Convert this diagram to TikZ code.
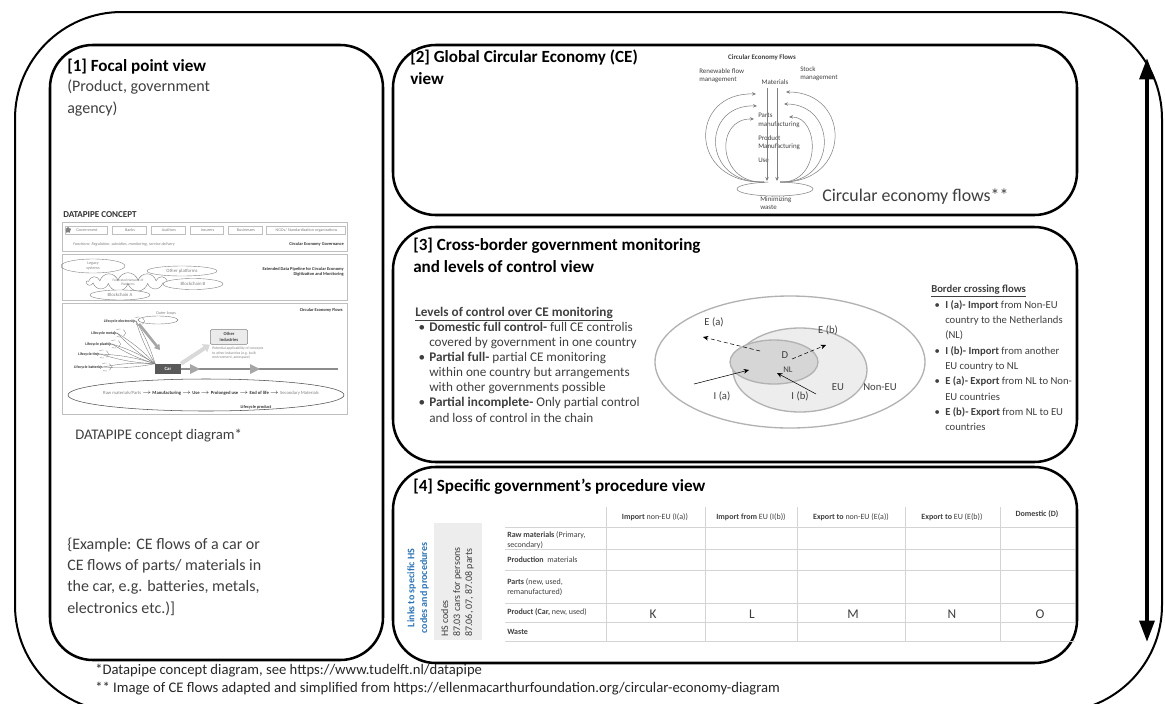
\documentclass[tikz,border=0pt]{standalone}
\usepackage{fontspec}
\setmainfont{Carlito}
\usepackage{tikz}
\usetikzlibrary{arrows.meta,shapes.geometric,shapes.symbols,positioning}
\definecolor{bodygrey}{HTML}{3F3F3F}
\definecolor{figgrey}{HTML}{808080}
\definecolor{rulegrey}{HTML}{D4D4D4}
\definecolor{linkblue}{HTML}{2E75B6}
\tikzset{
  panel/.style={line width=1.9pt, rounded corners=32pt},
  paneltitle/.style={anchor=west, inner sep=0pt, align=left,
    font=\fontsize{12.8}{16.5}\selectfont\bfseries},
  bodytext/.style={anchor=north west, inner sep=0pt, align=left, text=bodygrey,
    font=\fontsize{12}{15.8}\selectfont},
  listtext/.style={anchor=north west, inner sep=0pt, align=left, text=bodygrey,
    font=\fontsize{9.9}{11.3}\selectfont},
  foot/.style={anchor=west, inner sep=0pt, text=black!85, font=\fontsize{11}{13}\selectfont},
  minitext/.style={inner sep=0pt, text=figgrey, font=\fontsize{3.1}{3.7}\selectfont},
  minibold/.style={inner sep=0pt, text=black!80, font=\fontsize{3.3}{3.9}\selectfont\bfseries},
  minibox/.style={draw=black!25, line width=0.4pt},
  flowtext/.style={inner sep=0pt, align=left, text=bodygrey, font=\fontsize{5.2}{6.4}\selectfont},
  flowarc/.style={draw=figgrey, line width=0.4pt, -{Stealth[length=3pt,width=2.6pt]}},
  cell/.style={anchor=west, inner sep=0pt, align=left, text=bodygrey, font=\fontsize{6}{7.6}\selectfont},
  headcell/.style={inner sep=0pt, text=bodygrey, font=\fontsize{6}{7.6}\selectfont},
  letter/.style={inner sep=0pt, text=bodygrey, font=\fontsize{10}{12}\selectfont},
  zone/.style={draw=black!30, line width=1pt},
  zonelabel/.style={inner sep=0pt, text=bodygrey, font=\fontsize{8}{9}\selectfont},
}
\newcommand{\bul}{\hspace*{2.5pt}\makebox[8pt][l]{\textbullet}}
\newcommand{\cont}{\hspace*{10.5pt}}

\begin{document}
\begin{tikzpicture}[x=0.75pt,y=-0.75pt]
  \useasboundingbox (0,0) rectangle (1165,704);
  \clip (0,0) rectangle (1165,704);
  % frame and panels
  \draw[line width=1.5pt, rounded corners=80pt] (15,12) rectangle (1162,712);
  \draw[panel] (50,45) rectangle (383,660);
  \draw[panel] (393,45) rectangle (1077,215);
  \draw[panel] (393,227) rectangle (1077,462);
  \draw[panel] (393,467) rectangle (1077,663);
  \coordinate (arrtop) at (1147,58);
  \coordinate (arrbot) at (1147,642);
  \draw[{Triangle[length=16pt,width=11pt]}-{Triangle[length=16pt,width=11pt]}, line width=3pt]
    (arrtop) -- (arrbot);

  % [1] focal point view
  \node[paneltitle] (p1title) at (67,67) {[1] Focal point view};
  \node[bodytext] (p1sub) at (67,80) {(Product, government\\agency)};
  \node[anchor=west, inner sep=0pt, text=black!80, font=\fontsize{6.8}{8}\selectfont\bfseries]
    (dpconcept) at (63,215) {DATAPIPE CONCEPT};
  \draw[minibox] (62,222) rectangle (347,251);
  \node[star, star points=5, fill=figgrey, inner sep=0pt, minimum size=5pt] (govstar) at (68,230) {};
  \foreach \xa/\xb/\lbl in {65/107/Government, 112/146/Banks, 151/185/Auditors,
      190/223/Insurers, 228/262/Businesses, 266/345/{NGOs/ Standardization organizations}}{
    \draw[minibox] (\xa,226.5) rectangle (\xb,234.5);
    \node[minitext] at ({(\xa+\xb)/2+1},230.5) {\lbl};
  }
  \node[minitext, anchor=west, font=\fontsize{3.1}{3.7}\selectfont\itshape] (dpfunc) at (73,244)
    {Functions: Regulation, subsidies, monitoring, service delivery};
  \node[minibold, anchor=east] (dpgov) at (344,244) {Circular Economy Governance};
  \draw[minibox] (62,254) rectangle (347,300);
  \draw[figgrey, line width=0.3pt] (93,266) ellipse (32 and 7);
  \node[minitext, align=center] (legacy) at (93,266) {Legacy\\systems};
  \node[cloud, cloud puffs=13, aspect=4, draw=figgrey, fill=white, line width=0.3pt,
    minimum width=62pt, minimum height=13pt, inner sep=0pt, align=center,
    text=figgrey, font=\fontsize{2.6}{3.1}\selectfont] (fednet) at (128,282)
    {Federated Network of\\Platforms};
  \draw[figgrey, line width=0.3pt, fill=white] (182,271) ellipse (35 and 5);
  \node[minitext, font=\fontsize{3.6}{4}\selectfont] (otherplat) at (182,271) {Other platforms};
  \draw[figgrey, line width=0.3pt, fill=white] (193,284) ellipse (30 and 5.5);
  \node[minitext, font=\fontsize{3.6}{4}\selectfont] (chainb) at (193,284) {Blockchain B};
  \draw[figgrey, line width=0.3pt, fill=white] (120,295) ellipse (30 and 5);
  \node[minitext, font=\fontsize{3.6}{4}\selectfont] (chaina) at (120,295) {Blockchain A};
  \node[minibold, anchor=east, align=right] (dppipe) at (344,272)
    {Extended Data Pipeline for Circular Economy\\Digitization and Monitoring};
  \draw[minibox] (62,303) rectangle (347,414);
  \node[minibold, anchor=east] (dpflows) at (343,310) {Circular Economy Flows};
  \draw[figgrey, line width=0.3pt] (158,320) ellipse (20 and 4);
  \node[minitext] (outerloops) at (166,313) {Outer loops};
  \node[minibold, anchor=east, font=\fontsize{2.9}{3.4}\selectfont\bfseries] (lcelec) at (136,321) {Lifecycle electronics};
  \node[minibold, anchor=east, font=\fontsize{2.9}{3.4}\selectfont\bfseries] (lcmetal) at (117,333) {Lifecycle metals};
  \node[minibold, anchor=east, font=\fontsize{2.9}{3.4}\selectfont\bfseries] (lcplast) at (112,344) {Lifecycle plastics};
  \node[minibold, anchor=east, font=\fontsize{2.9}{3.4}\selectfont\bfseries] (lctire) at (100,354) {Lifecycle tires};
  \node[minibold, anchor=east, font=\fontsize{2.9}{3.4}\selectfont\bfseries] (lcbatt) at (103,367) {Lifecycle batteries};
  \node[fill=black!65, text=white, minimum width=19pt, minimum height=7.5pt, inner sep=0pt,
    font=\fontsize{3.6}{4}\selectfont\bfseries] (car) at (168,369) {Car};
  \foreach \lc in {lcelec,lcmetal,lcplast,lctire,lcbatt}{
    \draw[figgrey, line width=0.3pt] (\lc.east) to[bend left=7] (car.north west);
    \draw[figgrey, line width=0.3pt] (\lc.east) to[bend right=7] (car.north west);
    \draw[figgrey, densely dashed, line width=0.25pt] ([xshift=2pt]\lc.east) ellipse (6 and 4);
  }
  \draw[-{Triangle[length=4pt,width=5pt]}, line width=2pt, black!35] (139,324) -- (160,350);
  \node[draw=figgrey, fill=black!8, rounded corners=1pt, minimum width=28pt, minimum height=11pt,
    inner sep=0pt, align=center, font=\fontsize{3.4}{4}\selectfont\bfseries, text=black!75]
    (otherind) at (229,337) {Other\\industries};
  \draw[-{Triangle[length=5pt,width=7pt]}, line width=3pt, black!15] (car.north east) -- (otherind.south west);
  \node[minitext, anchor=north west, align=left, font=\fontsize{2.8}{3.3}\selectfont] (potential) at (212,347)
    {Potential applicability of concepts\\to other industries (e.g. built\\environment, aerospace)};
  \draw[black!45, line width=0.8pt] (car.east) -- (338,369);
  \fill[black!35] (190,364) -- (200,369) -- (190,374) -- cycle;
  \fill[black!35] (250,364) -- (260,369) -- (250,374) -- cycle;
  \draw[black!70, line width=0.4pt] (206,395) ellipse (138 and 16);
  \node[inner sep=0pt, text=black!80, font=\fontsize{3.5}{4}\selectfont\bfseries] (chain) at (211,393)
    {\textcolor{figgrey}{\mdseries Raw materials/Parts} $\rightarrow$ Manufacturing $\rightarrow$ Use
     $\rightarrow$ Prolonged use $\rightarrow$ End of life $\rightarrow$ \textcolor{figgrey}{\mdseries Secondary Materials}};
  \node[minibold] (lcproduct) at (256,407) {Lifecycle product};
  \node[anchor=west, inner sep=0pt, text=bodygrey, font=\fontsize{11}{13}\selectfont] (dpcaption) at (75,436)
    {DATAPIPE concept diagram*};
  \node[bodytext] (p1example) at (67,538) {\{Example: CE flows of a car or\\CE flows of parts/ materials in\\the car, e.g. batteries, metals,\\electronics etc.)]};

  % [2] global CE view
  \node[paneltitle, anchor=north west] (p2title) at (410,50) {[2] Global Circular Economy (CE)\\view};
  \node[flowtext, font=\fontsize{5.2}{6.4}\selectfont\bfseries] (ceflows) at (762,58) {Circular Economy Flows};
  \node[flowtext, anchor=north west] (renew) at (699,68) {Renewable flow\\management};
  \node[flowtext] (materials) at (775,82) {Materials};
  \node[flowtext, anchor=north west] (stock) at (800,66) {Stock\\management};
  \node[flowtext, anchor=north west] (partsman) at (758,113) {Parts\\manufacturing};
  \node[flowtext, anchor=north west] (prodman) at (758,135) {Product\\Manufacturing};
  \node[flowtext, anchor=north west] (use) at (758,158) {Use};
  \node[flowtext, anchor=north west] (minwaste) at (760,196) {Minimizing\\waste};
  \draw[flowarc] (767,88) -- (767,181);
  \draw[flowarc] (777,88) -- (777,181);
  \draw[figgrey, line width=0.4pt] (775,189) ++(280:38 and 7)
    arc[start angle=280, end angle=620, x radius=38, y radius=7];
  \coordinate (wasteL) at (764,182);
  \coordinate (wasteR) at (780,182);
  \draw[flowarc] (wasteL) .. controls (688,184) and (688,92) .. (756,94);
  \draw[flowarc] (wasteL) .. controls (701,184) and (701,104) .. (757,106);
  \draw[flowarc] (wasteL) .. controls (717,184) and (714,118) .. (754,119);
  \draw[flowarc] (wasteR) .. controls (852,184) and (852,92) .. (786,92);
  \draw[flowarc] (wasteR) .. controls (838,184) and (838,104) .. (784,104);
  \draw[flowarc] (wasteR) .. controls (822,184) and (820,116) .. (789,117);
  \node[anchor=west, inner sep=0pt, text=bodygrey, font=\fontsize{13.4}{16}\selectfont] (cecaption) at (822,197)
    {Circular economy flows**};

  % [3] cross-border view
  \node[paneltitle, anchor=north west] (p3title) at (413,238) {[3] Cross-border government monitoring\\and levels of control view};
  \node[listtext] (levels) at (415,307) {\textbf{\underline{Levels of control over CE monitoring}}\\
    \bul\textbf{Domestic full control-} full CE controlis\\
    \cont covered by government in one country\\
    \bul\textbf{Partial full-} partial CE monitoring\\
    \cont within one country but arrangements\\
    \cont with other governments possible\\
    \bul\textbf{Partial incomplete-} Only partial control\\
    \cont and loss of control in the chain};
  \draw[zone, fill=white] (790,362) ellipse (135 and 66);
  \draw[zone, fill=black!7] (800,370) ellipse (67 and 42);
  \draw[zone, fill=black!16] (774,362) ellipse (44 and 22);
  \node[zonelabel] (dom) at (785,355) {D};
  \node[zonelabel, font=\fontsize{6.5}{8}\selectfont] (nl) at (788,370) {NL};
  \node[zonelabel] (eu) at (838,387) {EU};
  \node[zonelabel] (noneu) at (880,387) {Non-EU};
  \node[zonelabel] (ealbl) at (714,322) {E (a)};
  \node[zonelabel] (eblbl) at (828,330) {E (b)};
  \node[zonelabel] (ialbl) at (722,396) {I (a)};
  \node[zonelabel] (iblbl) at (800,396) {I (b)};
  \coordinate (eastart) at (760,351);
  \coordinate (eaend) at (703,337);
  \coordinate (ebstart) at (792,359);
  \coordinate (ebend) at (826,345);
  \coordinate (iastart) at (694,384);
  \coordinate (iaend) at (749,370);
  \coordinate (ibstart) at (816,394);
  \coordinate (ibend) at (777,373);
  \draw[densely dashed, -{Stealth[length=4pt,width=3.5pt]}] (eastart) -- (eaend);
  \draw[densely dashed, -{Stealth[length=4pt,width=3.5pt]}] (ebstart) -- (ebend);
  \draw[-{Stealth[length=4pt,width=3.5pt]}] (iastart) -- (iaend);
  \draw[-{Stealth[length=4pt,width=3.5pt]}] (ibstart) -- (ibend);
  \node[listtext, font=\fontsize{8}{11.5}\selectfont] (border) at (931,285) {\textbf{\underline{Border crossing flows}}\\
    \bul\textbf{I (a)- Import} from Non-EU\\
    \cont country to the Netherlands\\
    \cont (NL)\\
    \bul\textbf{I (b)- Import} from another\\
    \cont EU country to NL\\
    \bul\textbf{E (a)- Export} from NL to Non-\\
    \cont EU countries\\
    \bul\textbf{E (b)- Export} from NL to EU\\
    \cont countries};

  % [4] procedure view
  \node[paneltitle] (p4title) at (413,487) {[4] Specific government’s procedure view};
  \node[rotate=90, inner sep=0pt, align=center, text=linkblue, font=\fontsize{7.5}{9.5}\selectfont\bfseries]
    (links) at (418,588) {Links to specific HS\\codes and procedures};
  \fill[black!7] (434,523) rectangle (482,640);
  \node[rotate=90, anchor=north west, inner sep=0pt, align=left, text=bodygrey, font=\fontsize{7.5}{9}\selectfont]
    (hscodes) at (441,637) {HS codes\\87.03 cars for persons\\87.06, 07, 87.08 parts};
  \foreach \yy in {527,549,570,603,622,641}{
    \draw[rulegrey, line width=0.6pt] (505,\yy) -- (1075,\yy);
  }
  \foreach \xx in {606,705,797,905,1000}{
    \draw[rulegrey, line width=0.6pt] (\xx,507) -- (\xx,641);
  }
  \node[headcell] (hia) at (655,517) {\textbf{Import} non-EU (I(a))};
  \node[headcell] (hib) at (751,517) {\textbf{Import from} EU (I(b))};
  \node[headcell] (hea) at (851,517) {\textbf{Export to} non-EU (E(a))};
  \node[headcell] (heb) at (952,517) {\textbf{Export to} EU (E(b))};
  \node[headcell] (hdom) at (1037,514) {\textbf{Domestic (D)}};
  \node[cell] (rraw) at (507,540) {\textbf{Raw materials} (Primary,\\secondary)};
  \node[cell] (rprod) at (507,560) {\textbf{Production}\ \ materials};
  \node[cell] (rparts) at (507,587) {\textbf{Parts} (new, used,\\remanufactured)};
  \node[cell] (rcar) at (507,612) {\textbf{Product (Car,} new, used)};
  \node[cell] (rwaste) at (507,632) {\textbf{Waste}};
  \node[letter] (lk) at (653,614) {K};
  \node[letter] (ll) at (752,614) {L};
  \node[letter] (lm) at (853,614) {M};
  \node[letter] (ln) at (952,614) {N};
  \node[letter] (lo) at (1040,614) {O};

  % footnotes
  \node[foot] (fn1) at (95,671) {*Datapipe concept diagram, see https://www.tudelft.nl/datapipe};
  \node[foot] (fn2) at (95,689) {** Image of CE flows adapted and simplified from https://ellenmacarthurfoundation.org/circular-economy-diagram};
\end{tikzpicture}
\end{document}
